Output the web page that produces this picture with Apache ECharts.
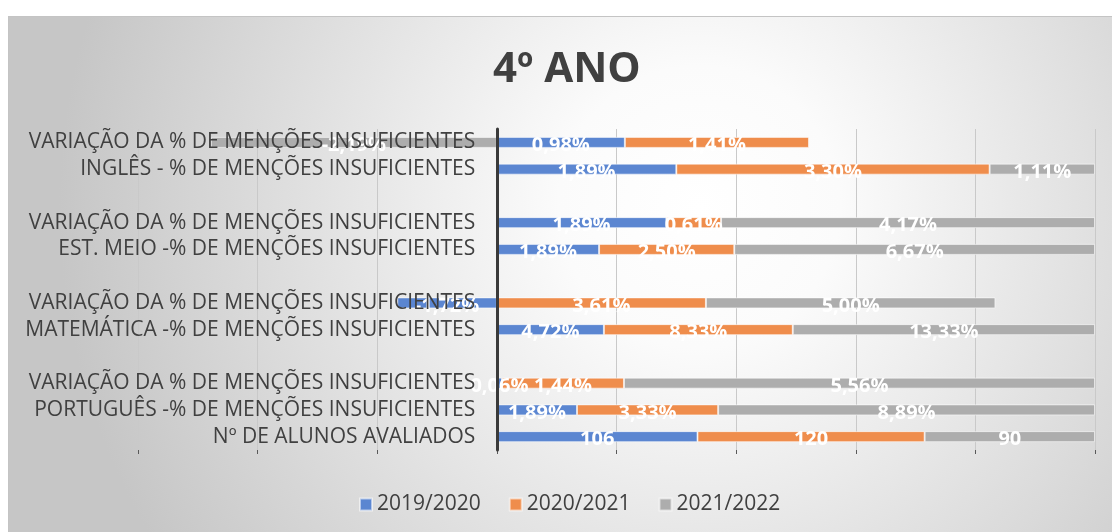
<!DOCTYPE html>
<html>
<head>
<meta charset="utf-8">
<script src="https://cdn.jsdelivr.net/npm/echarts@6/dist/echarts.min.js"></script>
<style>
  html, body { margin: 0; padding: 0; background: #ffffff; }
  #wrap { position: relative; width: 1112px; height: 532px; overflow: hidden; }
  #chart {
    position: absolute; left: 8px; top: 16px; width: 1104px; height: 516px;
    border-top: 1px solid #c4c4c4; border-left: 1px solid #c4c4c4; box-sizing: border-box;
    background: radial-gradient(circle 640px at 690px 190px, #ffffff 0%, #fbfbfb 22%, #c6c6c6 100%);
  }
</style>
</head>
<body>
<div id="wrap"><div id="chart"></div></div>
<script>
// categorias de cima para baixo
var categories = [
  'VARIAÇÃO DA % DE MENÇÕES INSUFICIENTES',
  'INGLÊS - % DE MENÇÕES INSUFICIENTES',
  '',
  'VARIAÇÃO DA % DE MENÇÕES INSUFICIENTES',
  'EST. MEIO -% DE MENÇÕES INSUFICIENTES',
  '',
  'VARIAÇÃO DA % DE MENÇÕES INSUFICIENTES',
  'MATEMÁTICA -% DE MENÇÕES INSUFICIENTES',
  '',
  'VARIAÇÃO DA % DE MENÇÕES INSUFICIENTES',
  'PORTUGUÊS -% DE MENÇÕES INSUFICIENTES',
  'Nº DE ALUNOS AVALIADOS'
]
var seriesNames = ['2019/2020', '2020/2021', '2021/2022']
var v2019 = [0.98, 1.89, null, 1.89, 1.89, null, -1.72, 4.72, null, 0.06, 1.89, 106]
var v2020 = [1.41, 3.30, null, 0.61, 2.50, null, 3.61, 8.33, null, 1.44, 3.33, 120]
var v2021 = [-2.19, 1.11, null, 4.17, 6.67, null, 5.00, 13.33, null, 5.56, 8.89, 90]
var xTicks = [-60, 100, 20]

var raw = [v2019, v2020, v2021]
var colors = ['#5B86D1', '#EF8D4C', '#ADADAD']

var gridLeft = 129, gridRight = 17, chartW = 1104

// barra a 100%: cada valor dividido pela soma dos valores absolutos da linha
function pct(i, row) {
  var s = 0
  for (var k = 0; k < raw.length; k++) {
    if (raw[k][row] != null) s += Math.abs(raw[k][row])
  }
  var v = raw[i][row]
  return v == null ? null : v / s * 100
}

function fmt(i, row) {
  var v = raw[i][row]
  if (v == null) return ''
  if (row === categories.length - 1) return String(v)
  return v.toFixed(2).replace('.', ',') + '%'
}

// eixo das categorias encostado ao zero (como no Excel), com os rótulos junto dele
var plotW = chartW - gridLeft - gridRight
var zeroShift = plotW * (0 - xTicks[0]) / (xTicks[1] - xTicks[0])

var chart = echarts.init(document.getElementById('chart'))

var series = raw.map(function(arr, i) {
  return {
    name: seriesNames[i],
    type: 'bar',
    stack: 'total',
    barWidth: 11,
    itemStyle: {
      color: colors[i],
      borderColor: 'rgba(255,255,255,0.55)',
      borderWidth: 1
    },
    label: {
      show: true,
      position: 'inside',
      offset: [0, 3],
      color: '#ffffff',
      fontFamily: 'Open Sans',
      fontWeight: 'bold',
      fontSize: 20,
      formatter: function(p) { return fmt(i, p.dataIndex) }
    },
    data: arr.map(function(v, row) { return pct(i, row) })
  }
})

chart.setOption({
  animation: false,
  title: {
    text: '4º ANO',
    left: 479,
    top: 27,
    textStyle: {
      fontFamily: 'Open Sans',
      fontWeight: 'bold',
      fontSize: 42,
      color: '#404040'
    }
  },
  legend: {
    data: seriesNames,
    left: 345,
    top: 472,
    icon: 'rect',
    itemWidth: 12,
    itemHeight: 12,
    itemGap: 28,
    textStyle: {
      fontFamily: 'Open Sans',
      fontSize: 21,
      color: '#404040'
    }
  },
  grid: {
    left: gridLeft,
    right: gridRight,
    top: 112,
    bottom: 82,
    containLabel: false,
    outerBoundsMode: 'none'
  },
  xAxis: {
    type: 'value',
    min: xTicks[0],
    max: xTicks[1],
    interval: xTicks[2],
    axisLine: { show: false },
    axisTick: { show: true, length: 4, lineStyle: { color: '#595959' } },
    axisLabel: { show: false },
    splitLine: { show: true, lineStyle: { color: '#c9c9c9', width: 1 } }
  },
  yAxis: {
    type: 'category',
    inverse: true,
    data: categories,
    z: 3,
    offset: -zeroShift,
    axisLine: { onZero: false, lineStyle: { color: '#3a3a3a', width: 3 } },
    axisTick: { show: false },
    axisLabel: {
      interval: 0,
      margin: 22,
      fontFamily: 'Open Sans',
      fontSize: 21,
      color: '#404040'
    }
  },
  series: series
})
</script>
</body>
</html>
